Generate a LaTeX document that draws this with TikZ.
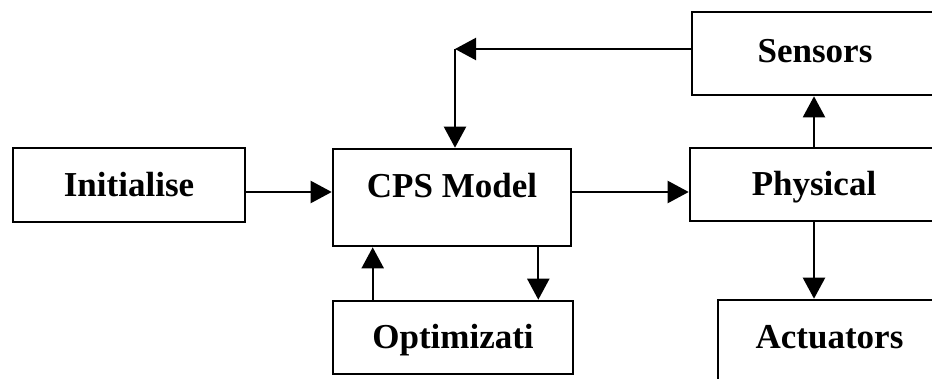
\documentclass[tikz,border=0pt]{standalone}
\usepackage{fontspec}
\setmainfont{Liberation Serif}
\usepackage{tikz}
\usetikzlibrary{arrows.meta,positioning,calc}

\begin{document}
\begin{tikzpicture}[
  x=1pt, y=-1pt,
  blk/.style={draw, line width=2.6pt, inner sep=0pt, align=center, text height=22pt, text depth=0pt,
    font=\fontsize{35}{40}\selectfont\bfseries},
  arr/.style={-{Triangle[length=21pt,width=22pt]}, line width=2.2pt},
]
\clip (0,0) rectangle (932,378);

% ─── Control side ───
\node[blk, minimum width=232pt, minimum height=74pt] (init) at (129, 185) {Initialise};
\node[blk, minimum width=238pt, minimum height=97pt, text depth=23pt] (cps) at (452, 197.5) {CPS Model};
\node[blk, minimum width=240pt, minimum height=73pt] (opt) at (453, 337.5) {Optimizati};

% ─── Plant side (runs off the right edge) ───
\node[blk, minimum width=246pt, minimum height=83pt, text depth=4pt] (sens) at (815, 53.5) {Sensors};
\node[blk, minimum width=248pt, minimum height=73pt] (phys) at (814, 184.5) {Physical};
\node[blk, minimum width=223pt, minimum height=100pt, text depth=26pt] (act) at (829.5, 350) {Actuators};

% ─── Feedback corner ───
\coordinate (fb) at (455, 49);

% ─── Arrows ───
\draw[arr] ([yshift=-7pt]init.east) -- ([yshift=-7pt]init.east -| cps.west);
\draw[arr] ([yshift=5.5pt]cps.east) -- ([yshift=5.5pt]cps.east -| phys.west);
\draw[arr] (phys.north) -- (phys.north |- sens.south);
\draw[arr] (phys.south) -- (phys.south |- act.north);
\draw[arr] ([xshift=41pt]opt.north west) -- ([xshift=41pt]opt.north west |- cps.south);
\draw[arr] ([xshift=-34pt]cps.south east) -- ([xshift=-34pt]cps.south east |- opt.north);
\draw[arr] ([yshift=4.5pt]sens.west) -- (fb);
\draw[arr] (fb) -- (fb |- cps.north);

\end{tikzpicture}
\end{document}
